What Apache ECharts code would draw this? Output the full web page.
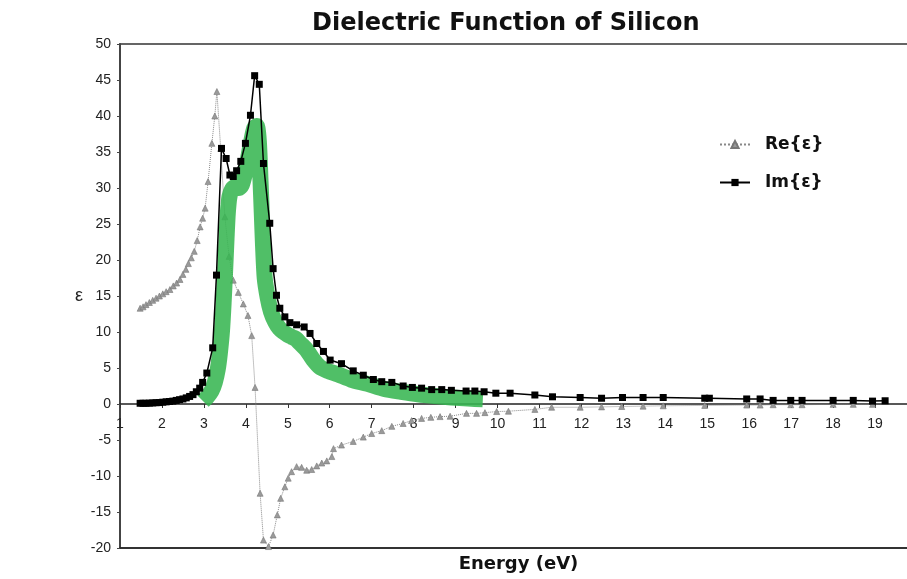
<!DOCTYPE html>
<html>
<head>
<meta charset="utf-8">
<title>Dielectric Function of Silicon</title>
<script src="https://cdn.jsdelivr.net/npm/echarts@6/dist/echarts.min.js"></script>
<style>
  html, body { margin: 0; padding: 0; background: #fff; }
  #chart { width: 907px; height: 579px; }
</style>
</head>
<body>
<div id="chart"></div>
<script>
// Real part of the dielectric function (photon energy in eV)
const reEnergy = [1.48, 1.55, 1.62, 1.7, 1.78, 1.86, 1.94, 2.02, 2.1, 2.19, 2.27, 2.35, 2.43, 2.5, 2.57, 2.63, 2.7, 2.77, 2.84, 2.91, 2.97, 3.03, 3.1, 3.19, 3.26, 3.31, 3.4, 3.5, 3.6, 3.7, 3.82, 3.94, 4.05, 4.14, 4.22, 4.34, 4.42, 4.54, 4.65, 4.75, 4.83, 4.93, 5.01, 5.09, 5.21, 5.33, 5.45, 5.57, 5.69, 5.81, 5.93, 6.05, 6.09, 6.28, 6.56, 6.8, 7.0, 7.24, 7.48, 7.75, 7.95, 8.19, 8.41, 8.63, 8.87, 9.26, 9.5, 9.7, 9.98, 10.26, 10.89, 11.29, 11.97, 12.48, 12.96, 13.47, 13.95, 14.94, 15.94, 16.26, 16.57, 16.99, 17.26, 18.0, 18.48, 18.94];
const reValues = [13.3, 13.5, 13.8, 14.1, 14.4, 14.7, 15.0, 15.3, 15.6, 15.9, 16.4, 16.8, 17.3, 18.0, 18.7, 19.5, 20.3, 21.2, 22.7, 24.6, 25.8, 27.2, 30.9, 36.2, 40.0, 43.4, 35.5, 26.0, 20.5, 17.2, 15.5, 13.9, 12.3, 9.5, 2.3, -12.4, -18.9, -19.8, -18.2, -15.4, -13.1, -11.5, -10.3, -9.4, -8.7, -8.8, -9.2, -9.1, -8.6, -8.2, -7.9, -7.3, -6.2, -5.7, -5.2, -4.6, -4.1, -3.7, -3.1, -2.7, -2.3, -2.0, -1.85, -1.75, -1.7, -1.3, -1.3, -1.2, -1.05, -1.0, -0.75, -0.45, -0.45, -0.4, -0.35, -0.3, -0.25, -0.2, -0.15, -0.15, -0.1, -0.1, -0.1, -0.05, -0.05, -0.05];

// Imaginary part of the dielectric function
const imEnergy = [1.48, 1.55, 1.62, 1.7, 1.78, 1.86, 1.94, 2.02, 2.1, 2.18, 2.26, 2.34, 2.42, 2.5, 2.58, 2.66, 2.74, 2.82, 2.9, 2.97, 3.07, 3.21, 3.3, 3.42, 3.53, 3.62, 3.7, 3.78, 3.88, 3.99, 4.11, 4.21, 4.32, 4.42, 4.57, 4.65, 4.73, 4.81, 4.93, 5.05, 5.21, 5.39, 5.53, 5.69, 5.85, 6.01, 6.28, 6.56, 6.8, 7.04, 7.24, 7.48, 7.75, 7.97, 8.19, 8.43, 8.67, 8.9, 9.25, 9.46, 9.68, 9.96, 10.3, 10.89, 11.31, 11.97, 12.48, 12.98, 13.47, 13.95, 14.94, 15.05, 15.94, 16.26, 16.57, 16.99, 17.26, 18.0, 18.48, 18.94, 19.24];
const imValues = [0.1, 0.1, 0.1, 0.12, 0.15, 0.18, 0.2, 0.25, 0.3, 0.35, 0.4, 0.5, 0.6, 0.7, 0.85, 1.05, 1.3, 1.7, 2.2, 3.0, 4.3, 7.8, 17.9, 35.5, 34.1, 31.8, 31.6, 32.4, 33.7, 36.2, 40.1, 45.6, 44.4, 33.4, 25.1, 18.8, 15.1, 13.3, 12.1, 11.3, 11.0, 10.7, 9.8, 8.4, 7.3, 6.1, 5.6, 4.6, 4.0, 3.4, 3.1, 3.0, 2.5, 2.3, 2.2, 2.0, 2.0, 1.9, 1.8, 1.8, 1.7, 1.5, 1.5, 1.25, 1.0, 0.9, 0.8, 0.9, 0.9, 0.9, 0.8, 0.8, 0.7, 0.7, 0.5, 0.5, 0.5, 0.5, 0.5, 0.4, 0.45];

// Measured imaginary part (dense band)
const measEnergy = [2.98, 3.08, 3.18, 3.26, 3.33, 3.38, 3.43, 3.47, 3.51, 3.54, 3.57, 3.61, 3.67, 3.75, 3.83, 3.9, 3.97, 4.05, 4.13, 4.2, 4.26, 4.31, 4.35, 4.38, 4.41, 4.45, 4.52, 4.6, 4.7, 4.8, 4.9, 5.0, 5.1, 5.2, 5.3, 5.45, 5.6, 5.77, 5.95, 6.2, 6.5, 6.9, 7.3, 7.7, 8.1, 8.5, 8.9, 9.3, 9.65];
const measValues = [0.4, 1.0, 1.8, 3.0, 4.8, 7.0, 10.0, 14.0, 19.0, 23.0, 26.5, 28.8, 29.8, 30.2, 30.0, 30.4, 31.8, 34.0, 36.5, 38.3, 38.6, 36.5, 31.0, 26.5, 22.0, 17.5, 14.8, 12.8, 11.4, 10.5, 10.0, 9.6, 9.3, 9.0, 8.4, 7.5, 6.2, 5.1, 4.6, 4.1, 3.4, 2.8, 2.1, 1.7, 1.35, 1.1, 0.9, 0.75, 0.65];

const energyTicks = { min: 1, max: 20, step: 1 };
const epsTicks = { min: -20, max: 50, step: 5 };

const zip = (xs, ys) => xs.map((x, i) => [x, ys[i]]);

const FONT = '"Liberation Sans", Arial, Helvetica, sans-serif';
const BOLD_FONT = '"DejaVu Sans", "Liberation Sans", Arial, sans-serif';

// plot area geometry
const GRID_TOP = 44;
const GRID_BOTTOM = 31;
const CHART_H = 579;
const plotHeight = CHART_H - GRID_TOP - GRID_BOTTOM;
// the energy axis sits on the zero line of the ε scale
const zeroOffset = -plotHeight * (0 - epsTicks.min) / (epsTicks.max - epsTicks.min);

const chart = echarts.init(document.getElementById('chart'), null, { renderer: 'canvas' });

chart.setOption({
  animation: false,
  backgroundColor: '#fff',
  title: {
    text: 'Dielectric Function of Silicon',
    left: 307,
    top: 7,
    textStyle: { fontFamily: BOLD_FONT, fontSize: 24, fontWeight: 'bold', color: '#111' }
  },
  legend: {
    orient: 'vertical',
    left: 714,
    top: 131,
    itemGap: 21,
    itemWidth: 30,
    itemHeight: 9,
    data: ['Re{ε}', 'Im{ε}'],
    textStyle: { fontFamily: BOLD_FONT, fontSize: 17, fontWeight: 'bold', color: '#111', padding: [0, 0, 0, 10] }
  },
  grid: {
    left: 120,
    right: -10,
    top: GRID_TOP,
    bottom: GRID_BOTTOM,
    outerBoundsMode: 'none',
    containLabel: false,
    show: true,
    borderColor: '#333',
    borderWidth: 1.5
  },
  xAxis: [
    {
      type: 'value',
      position: 'bottom',
      offset: zeroOffset,
      min: energyTicks.min,
      max: energyTicks.max,
      interval: energyTicks.step,
      axisLine: { onZero: false, lineStyle: { color: '#222', width: 1.5 } },
      axisTick: { show: true, inside: false, length: 4, lineStyle: { color: '#333' } },
      axisLabel: {
        margin: 13, fontFamily: FONT, fontSize: 14, color: '#222',
        showMaxLabel: false
      },
      splitLine: { show: false }
    },
    {
      type: 'value',
      position: 'bottom',
      min: energyTicks.min,
      max: energyTicks.max,
      axisLine: { onZero: false, lineStyle: { color: '#222', width: 1.5 } },
      axisTick: { show: false },
      axisLabel: { show: false },
      splitLine: { show: false },
      name: 'Energy (eV)',
      nameLocation: 'middle',
      nameGap: 7,
      nameTextStyle: { fontFamily: BOLD_FONT, fontSize: 18, fontWeight: 'bold', color: '#111', verticalAlign: 'top' }
    }
  ],
  yAxis: {
    type: 'value',
    min: epsTicks.min,
    max: epsTicks.max,
    interval: epsTicks.step,
    axisLine: { show: true, onZero: false, lineStyle: { color: '#444', width: 2 } },
    axisTick: { show: true, inside: false, length: 3, lineStyle: { color: '#444' } },
    axisLabel: { margin: 9, fontFamily: FONT, fontSize: 14, color: '#222' },
    splitLine: { show: false },
    name: 'ε',
    nameLocation: 'middle',
    nameRotate: 0,
    nameGap: 37,
    nameTextStyle: { fontFamily: FONT, fontSize: 18, color: '#222' }
  },
  series: [
    {
      name: 'Re{ε}',
      type: 'line',
      xAxisIndex: 0,
      data: zip(reEnergy, reValues),
      z: 2,
      symbol: 'triangle',
      symbolSize: 6,
      showAllSymbol: true,
      itemStyle: { color: '#9a9a9a', borderColor: '#777', borderWidth: 0.6 },
      lineStyle: { color: '#888', width: 1, type: 'dotted' }
    },
    {
      name: 'measured',
      type: 'line',
      xAxisIndex: 0,
      data: zip(measEnergy, measValues),
      z: 3,
      symbol: 'none',
      smooth: 0.25,
      lineStyle: { color: 'rgba(56,182,82,0.88)', width: 16, cap: 'butt', join: 'round' }
    },
    {
      name: 'Im{ε}',
      type: 'line',
      xAxisIndex: 0,
      data: zip(imEnergy, imValues),
      z: 4,
      symbol: 'rect',
      symbolSize: 7,
      showAllSymbol: true,
      itemStyle: { color: '#000' },
      lineStyle: { color: '#000', width: 1.5 }
    }
  ]
});
</script>
</body>
</html>
